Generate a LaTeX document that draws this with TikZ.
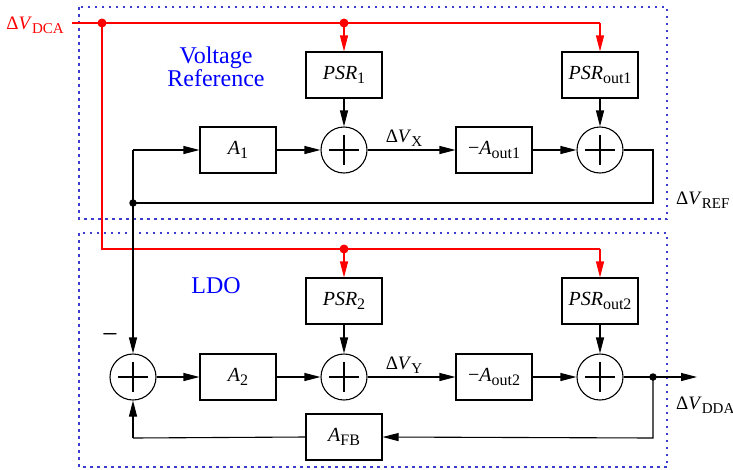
\documentclass[tikz,border=0pt]{standalone}
\usepackage{fontspec}
\setmainfont{Liberation Serif}
\usetikzlibrary{arrows.meta}
\definecolor{boxblue}{RGB}{60,60,205}
\newcommand\iV{\textit{V}}
\newcommand\sbs[1]{\raisebox{-0.2em}{\fontsize{15}{15}\selectfont #1}}
\newcommand\bsbs[1]{\raisebox{-0.2em}{\fontsize{16}{16}\selectfont #1}}
\begin{document}
\begin{tikzpicture}[x=1pt,y=-1pt,
  wire/.style={line width=1.1pt},
  arr/.style={wire,-{Triangle[length=16pt,width=8pt]}},
  rwire/.style={wire,red},
  rarr/.style={rwire,-{Triangle[length=16pt,width=8pt]}},
  blk/.style={draw,line width=1.1pt,minimum width=76pt,minimum height=46pt,inner sep=0pt,font=\fontsize{20}{22}\selectfont},
  sumn/.style={draw,line width=1.1pt,circle,minimum size=46pt,inner sep=0pt,
    path picture={\draw[line width=1.1pt]
      ([xshift=-15pt]path picture bounding box.center) -- ([xshift=15pt]path picture bounding box.center)
      ([yshift=-15pt]path picture bounding box.center) -- ([yshift=15pt]path picture bounding box.center);}},
  dotb/.style={circle,fill=black,inner sep=0pt,minimum size=7.5pt},
  dotr/.style={circle,fill=red,inner sep=0pt,minimum size=9pt},
  frame/.style={draw=boxblue,line width=1.3pt,dash pattern=on 2.5pt off 4.5pt},
  lbl/.style={font=\fontsize{19}{21}\selectfont,inner sep=0pt},
  title/.style={text=blue,font=\fontsize{24}{23}\selectfont,align=center,inner sep=0pt}
]
\useasboundingbox (0,0) rectangle (733,469);

% frames
\draw[frame] (79,7) rectangle (667,219);
\draw[frame] (79,233) rectangle (667,467);

% titles
\node[title] (vref) at (216,67) {Voltage\\Reference};
\node[title] (ldo) at (216,286) {LDO};

% blocks upper
\node[blk] (PSR1) at (344,75) {\textit{PSR}\bsbs{1}};
\node[blk] (PSRo1) at (600,75) {\textit{PSR}\bsbs{out1}};
\node[blk] (A1) at (238,150) {\textit{A}\bsbs{1}};
\node[sumn] (s1) at (344,150) {};
\node[blk] (Ao1) at (494,150) {−\textit{A}\bsbs{out1}};
\node[sumn] (so1) at (600,150) {};

% blocks lower
\node[blk] (PSR2) at (344,301) {\textit{PSR}\bsbs{2}};
\node[blk] (PSRo2) at (600,301) {\textit{PSR}\bsbs{out2}};
\node[sumn] (sL) at (133,377) {};
\node[blk] (A2) at (238,377) {\textit{A}\bsbs{2}};
\node[sumn] (s2) at (344,377) {};
\node[blk] (Ao2) at (494,377) {−\textit{A}\bsbs{out2}};
\node[sumn] (so2) at (600,377) {};
\node[blk] (AFB) at (344,437) {\textit{A}\bsbs{FB}};

% coordinates
\coordinate (rstart) at (72,23);
\node[dotr] (rd1) at (102,23) {};
\node[dotr] (rd2) at (344,23) {};
\coordinate (rc1) at (600,23);
\coordinate (rbl) at (102,249);
\node[dotr] (rd3) at (344,249) {};
\coordinate (rc2) at (600,249);

\node[dotb] (fbd) at (133,203) {};
\coordinate (fbc1) at (653,150);
\coordinate (fbc2) at (653,203);
\coordinate (fbu) at (133,150);

\node[dotb] (od) at (653,377) {};
\coordinate (oend) at (697,377);
\coordinate (oc) at (653,438);
\coordinate (lc) at (133,438);

% red wires
\draw[rwire] (rstart) -- (rc1);
\draw[rarr] (rc1) -- (PSRo1.north);
\draw[rarr] (rd2.center) -- (PSR1.north);
\draw[rwire] (rd1.center) -- (rbl) -- (rc2);
\draw[rarr] (rc2) -- (PSRo2.north);
\draw[rarr] (rd3.center) -- (PSR2.north);

% upper loop
\draw[arr] (fbu) -- (A1.west);
\draw[arr] (A1.east) -- (s1.west);
\draw[arr] (PSR1.south) -- (s1.north);
\draw[arr] (s1.east) -- (Ao1.west);
\draw[arr] (Ao1.east) -- (so1.west);
\draw[arr] (PSRo1.south) -- (so1.north);
\draw[wire] (so1.east) -- (fbc1) -- (fbc2) -- (fbd.center) -- (fbu);
\draw[arr] (fbd.center) -- (sL.north);

% lower loop
\draw[arr] (sL.east) -- (A2.west);
\draw[arr] (A2.east) -- (s2.west);
\draw[arr] (PSR2.south) -- (s2.north);
\draw[arr] (s2.east) -- (Ao2.west);
\draw[arr] (Ao2.east) -- (so2.west);
\draw[arr] (PSRo2.south) -- (so2.north);
\draw[wire] (so2.east) -- (od.center);
\draw[arr] (od.center) -- (oend);
\draw[arr] (od.center) -- (oc) -- (AFB.east);
\draw[wire] (AFB.west) -- (lc);
\draw[arr] (lc) -- (sL.south);

% labels
\node[lbl,text=red,anchor=east] (ldca) at (64,25) {Δ\iV\sbs{DCA}};
\node[lbl] (lx) at (404,138) {Δ\iV\sbs{X}};
\node[lbl] (ly) at (404,365) {Δ\iV\sbs{Y}};
\node[lbl,anchor=west] (lref) at (676,200) {Δ\iV\sbs{REF}};
\node[lbl,anchor=west] (ldda) at (676,405) {Δ\iV\sbs{DDA}};
\node[lbl,font=\fontsize{28}{28}\selectfont] (minus) at (110,338) {−};
\end{tikzpicture}
\end{document}
